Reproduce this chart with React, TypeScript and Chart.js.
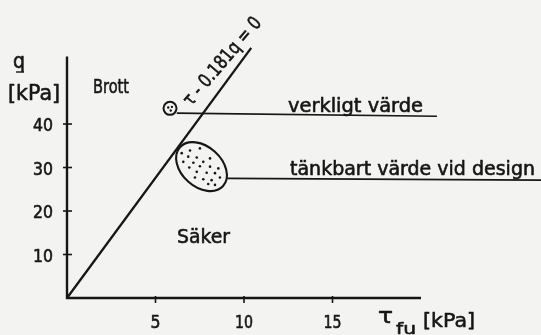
import React, { useEffect, useRef } from "react";
import { Chart, registerables } from "chart.js";

Chart.register(...registerables);

// Axis ticks
const xTicks = [5, 10, 15];
const yTicks = [10, 20, 30, 40];

// Failure criterion τ - 0.181q = 0, drawn between these q values
const failureCoef = 0.181;
const failureQ = [0, 57.5];

// Measured value (small circle) and its leader line
const measuredPoint = [{ x: 5.82, y: 43.6 }];
const measuredDots = [
  { x: 5.72, y: 43.8 },
  { x: 5.93, y: 43.95 },
  { x: 5.86, y: 43.1 },
];
const measuredLeader = [
  { x: 6.2, y: 42.5 },
  { x: 20.9, y: 41.8 },
];

// Conceivable design values (dotted ellipse) and its leader line
const designCenter = { x: 7.6, y: 30.2 };
const designDots = [
  { x: 6.48, y: 33.3 }, { x: 6.95, y: 33.9 }, { x: 7.51, y: 34.4 },
  { x: 6.85, y: 32.5 }, { x: 7.33, y: 32.3 }, { x: 6.57, y: 31.3 },
  { x: 7.14, y: 31.1 }, { x: 7.7, y: 31.3 }, { x: 8.08, y: 32.1 },
  { x: 6.91, y: 30.0 }, { x: 7.51, y: 30.3 }, { x: 8.08, y: 30.2 },
  { x: 8.55, y: 29.8 }, { x: 7.33, y: 29.0 }, { x: 7.89, y: 28.8 },
  { x: 8.36, y: 28.7 }, { x: 7.23, y: 27.7 }, { x: 7.7, y: 27.3 },
  { x: 8.17, y: 27.1 }, { x: 8.64, y: 27.7 }, { x: 8.36, y: 26.0 },
  { x: 7.98, y: 26.2 },
];
const designLeader = [
  { x: 9.05, y: 27.5 },
  { x: 26.8, y: 27.1 },
];

const INK = "#161616";
const PAPER = "#f3f3f1";
const FONT = '"DejaVu Sans"';

// Draws text squeezed to a given width, with a light stroke for a pen-lettered weight
function fitText(
  ctx: CanvasRenderingContext2D,
  text: string,
  x: number,
  y: number,
  size: number,
  width: number
) {
  ctx.font = `${size}px ${FONT}`;
  const w = ctx.measureText(text).width;
  ctx.save();
  ctx.translate(x, y);
  ctx.scale(width / w, 1);
  ctx.textAlign = "left";
  ctx.textBaseline = "alphabetic";
  ctx.lineWidth = 0.6;
  ctx.lineJoin = "round";
  ctx.fillText(text, 0, 0);
  ctx.strokeText(text, 0, 0);
  ctx.restore();
}

const diagramPlugin = {
  id: "diagram",
  beforeDraw(chart: any) {
    const { ctx, width, height } = chart;
    ctx.save();
    ctx.fillStyle = PAPER;
    ctx.fillRect(0, 0, width, height);
    ctx.restore();
  },
  afterDatasetsDraw(chart: any) {
    const { ctx, chartArea } = chart;
    const xs = chart.scales.x;
    const ys = chart.scales.y;
    const x0 = xs.getPixelForValue(0);
    const y0 = ys.getPixelForValue(0);

    ctx.save();
    ctx.strokeStyle = INK;
    ctx.fillStyle = INK;
    ctx.lineCap = "butt";

    // axes
    ctx.lineWidth = 2.4;
    ctx.beginPath();
    ctx.moveTo(x0, chartArea.top);
    ctx.lineTo(x0, y0);
    ctx.lineTo(chartArea.right, y0);
    ctx.stroke();

    // tick marks and labels
    ctx.lineWidth = 1.6;
    yTicks.forEach((v) => {
      const py = ys.getPixelForValue(v);
      ctx.beginPath();
      ctx.moveTo(x0 - 4, py);
      ctx.lineTo(x0 + 5, py);
      ctx.stroke();
      fitText(ctx, String(v), x0 - 34, py + 7, 17, 20);
    });
    xTicks.forEach((v) => {
      const px = xs.getPixelForValue(v);
      ctx.beginPath();
      ctx.moveTo(px, y0 - 2);
      ctx.lineTo(px, y0 + 5);
      ctx.stroke();
      const label = String(v);
      const w = label.length === 1 ? 10 : 18;
      fitText(ctx, label, px - w / 2, y0 + 30, 17, w);
    });

    // design ellipse
    const cx = xs.getPixelForValue(designCenter.x);
    const cy = ys.getPixelForValue(designCenter.y);
    ctx.lineWidth = 2.1;
    ctx.beginPath();
    ctx.ellipse(cx, cy, 29, 20, (42 * Math.PI) / 180, 0, Math.PI * 2);
    ctx.stroke();

    // axis titles
    fitText(ctx, "q", 13, 68, 21, 12);
    ctx.lineWidth = 1.4;
    ctx.beginPath();
    ctx.moveTo(16, 72);
    ctx.lineTo(24, 72);
    ctx.stroke();
    fitText(ctx, "[kPa]", 8, 100, 21, 52);
    fitText(ctx, "τ", 378, 323, 21, 15);
    fitText(ctx, "fu", 396, 334, 16, 20);
    fitText(ctx, "[kPa]", 423, 327, 20, 52);

    // region labels
    fitText(ctx, "Brott", 93, 93, 20, 36);
    fitText(ctx, "Säker", 177, 243, 20, 53);

    // leader labels
    fitText(ctx, "verkligt värde", 288, 112, 19, 135);
    fitText(ctx, "tänkbart värde vid design", 290, 175, 19, 245);

    // failure criterion label along the line
    const ax = xs.getPixelForValue(7.0);
    const ay = ys.getPixelForValue(43.9);
    ctx.save();
    ctx.translate(ax, ay);
    ctx.rotate((-49.5 * Math.PI) / 180);
    fitText(ctx, "τ - 0.181q = 0", 0, 0, 19, 110);
    ctx.restore();

    ctx.restore();
  },
};

export default function App() {
  const ref = useRef<HTMLCanvasElement | null>(null);

  useEffect(() => {
    document.body.style.margin = "0";
    const canvas = ref.current;
    if (!canvas) return;
    const failureLine = failureQ.map((q) => ({ x: failureCoef * q, y: q }));

    const chart = new Chart(canvas, {
      type: "scatter",
      data: {
        datasets: [
          {
            data: failureLine,
            showLine: true,
            borderColor: INK,
            borderWidth: 2.3,
            pointRadius: 0,
            clip: false,
          },
          {
            data: measuredLeader,
            showLine: true,
            borderColor: INK,
            borderWidth: 1.6,
            pointRadius: 0,
            clip: false,
          },
          {
            data: designLeader,
            showLine: true,
            borderColor: INK,
            borderWidth: 1.6,
            pointRadius: 0,
            clip: false,
          },
          {
            data: measuredPoint,
            pointRadius: 6.5,
            pointBorderWidth: 2,
            pointBorderColor: INK,
            pointBackgroundColor: "rgba(0,0,0,0)",
            clip: false,
          },
          {
            data: measuredDots,
            pointRadius: 1.2,
            pointBorderWidth: 0,
            pointBackgroundColor: INK,
          },
          {
            data: designDots,
            pointRadius: 1.3,
            pointBorderWidth: 0,
            pointBackgroundColor: INK,
          },
        ],
      },
      options: {
        animation: false,
        responsive: false,
        events: [],
        layout: { padding: { left: 67, right: 120, top: 56.6, bottom: 37 } },
        plugins: {
          legend: { display: false },
          tooltip: { enabled: false },
        },
        scales: {
          x: { type: "linear", min: 0, max: 20, display: false },
          y: { type: "linear", min: 0, max: 55.5, display: false },
        },
      },
      plugins: [diagramPlugin],
    });
    return () => chart.destroy();
  }, []);

  return (
    <div style={{ position: "absolute", left: 0, top: 0, width: 541, height: 335 }}>
      <canvas ref={ref} width={541} height={335} style={{ display: "block" }} />
    </div>
  );
}
